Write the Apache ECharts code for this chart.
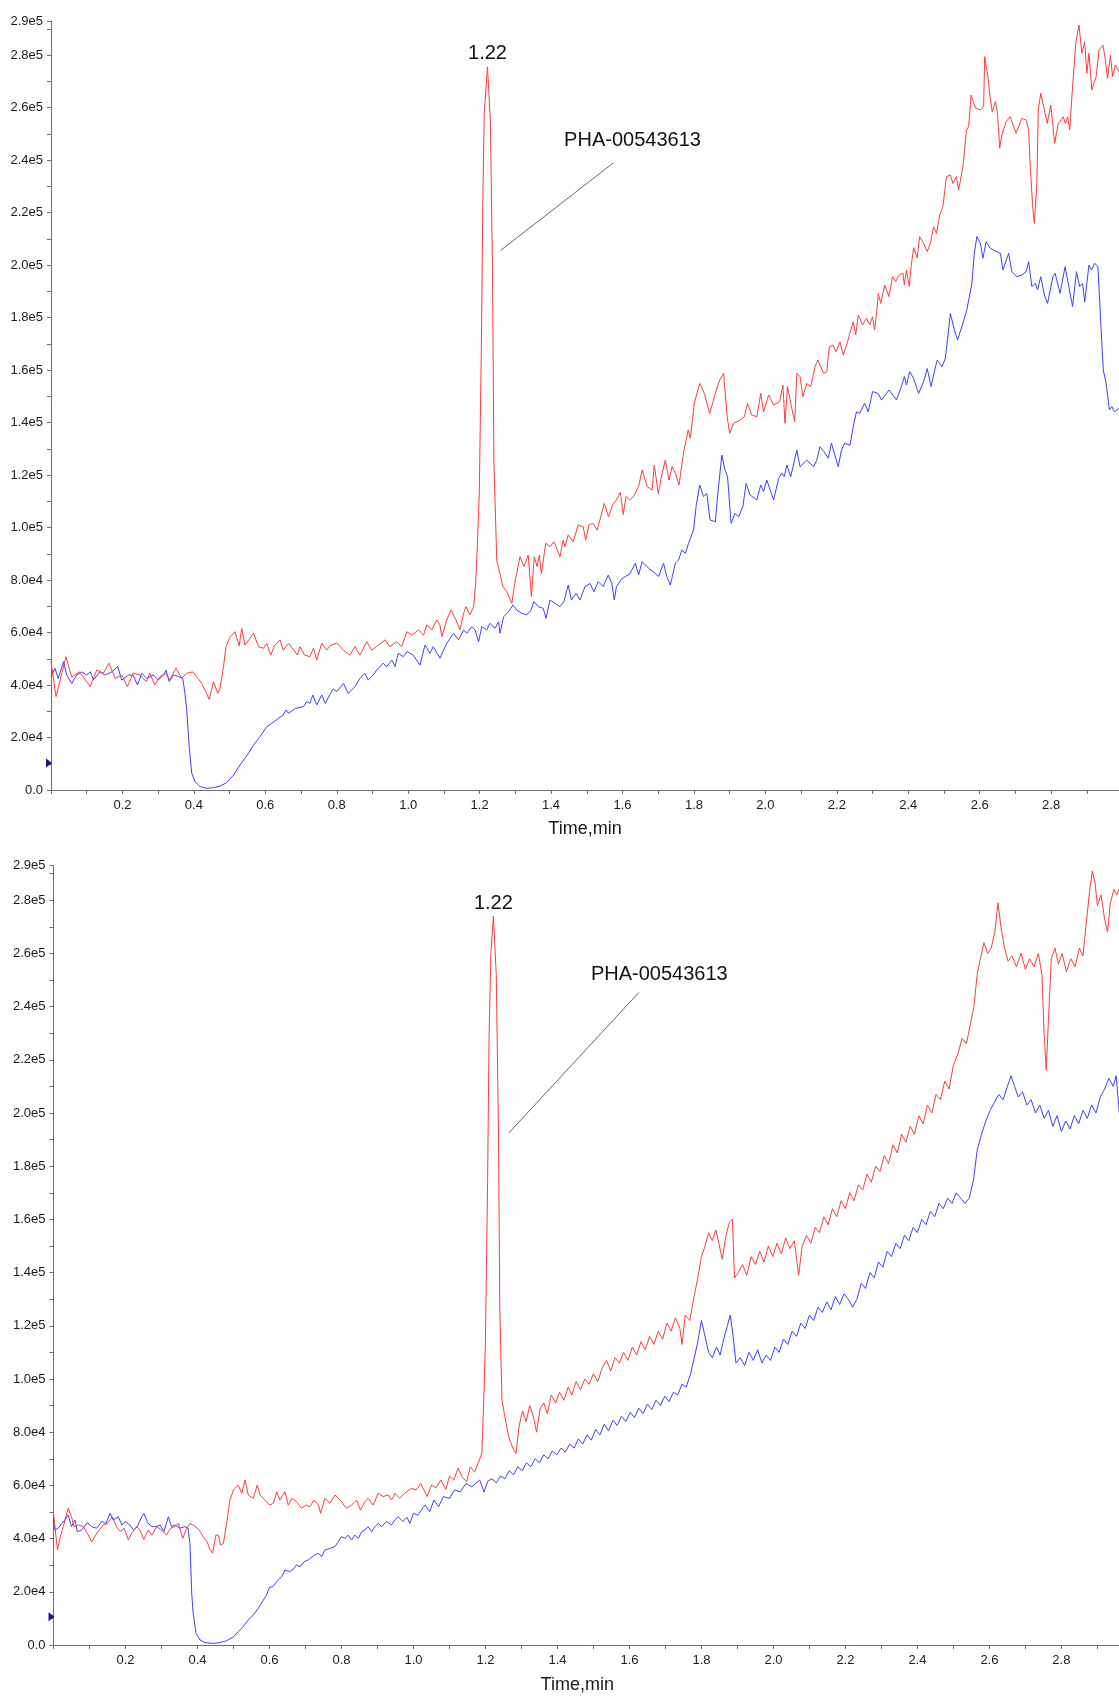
<!DOCTYPE html>
<html>
<head>
<meta charset="utf-8">
<script src="https://cdn.jsdelivr.net/npm/echarts/dist/echarts.min.js"></script>
<style>
  html, body { margin: 0; padding: 0; background: #fff; }
  #chart { width: 1119px; height: 1696px; }
</style>
</head>
<body>
<div id="chart"></div>
<script>
// Extracted ion chromatograms, intensity in thousands of counts vs time (min).
// Each point is [time, intensity/1000].

const redTop = [[0,48.9],[0.014,35.6],[0.042,50.8],[0.058,43.0],[0.08,45.0],[0.11,39.4],[0.128,45.7],[0.147,44.5],[0.162,48.3],[0.18,42.5],[0.198,43.8],[0.214,39.4],[0.23,44.5],[0.25,43.8],[0.266,41.3],[0.277,44.5],[0.29,40.0],[0.305,43.2],[0.32,44.5],[0.333,41.9],[0.35,46.4],[0.366,42.5],[0.38,44.5],[0.397,45.0],[0.408,43.2],[0.422,40.6],[0.433,37.5],[0.443,34.5],[0.455,41.3],[0.467,36.8],[0.473,38.7],[0.483,47.0],[0.49,54.6],[0.502,58.4],[0.515,60.3],[0.527,54.9],[0.534,61.6],[0.543,55.2],[0.567,59.7],[0.581,54.6],[0.595,54.0],[0.604,55.9],[0.615,51.4],[0.627,55.2],[0.641,57.2],[0.65,53.3],[0.665,55.9],[0.69,51.4],[0.697,54.6],[0.71,51.4],[0.725,50.8],[0.735,54.0],[0.744,49.5],[0.758,55.9],[0.772,53.3],[0.781,55.0],[0.8,56.0],[0.819,53.3],[0.837,51.4],[0.851,54.6],[0.865,51.4],[0.884,56.5],[0.898,53.3],[0.917,55.2],[0.935,57.2],[0.949,54.6],[0.968,56.5],[0.982,54.6],[0.996,60.3],[1.01,59.0],[1.029,61.0],[1.043,59.0],[1.052,62.9],[1.066,61.0],[1.08,64.8],[1.089,62.9],[1.094,58.4],[1.108,64.8],[1.12,68.6],[1.134,64.8],[1.145,61.0],[1.155,67.3],[1.162,69.9],[1.173,66.7],[1.183,69.9],[1.189,78.7],[1.195,97.8],[1.199,113],[1.205,170],[1.209,225],[1.213,258],[1.222,275.5],[1.23,255],[1.236,198],[1.24,125],[1.248,87.6],[1.257,82.5],[1.265,77.5],[1.276,75.6],[1.29,71.1],[1.3,80.0],[1.313,88.9],[1.324,85.1],[1.336,89.5],[1.345,73.7],[1.353,88.9],[1.361,85.1],[1.367,89.5],[1.373,82.5],[1.385,94.0],[1.397,92.7],[1.408,94.6],[1.425,88.9],[1.434,95.2],[1.439,92.7],[1.448,97.2],[1.462,94.6],[1.476,101.0],[1.49,100.3],[1.497,95.2],[1.506,101.0],[1.517,101.6],[1.529,99.0],[1.538,103.5],[1.549,109.2],[1.561,104.1],[1.572,108.6],[1.583,110.5],[1.594,113.4],[1.602,105.0],[1.61,111.8],[1.62,110.5],[1.631,111.8],[1.645,115.6],[1.655,121.9],[1.669,115.6],[1.683,114.3],[1.689,123.8],[1.7,113.0],[1.711,120.7],[1.72,125.7],[1.73,118.1],[1.739,123.2],[1.748,120.7],[1.758,116.2],[1.772,129.5],[1.784,137.2],[1.79,134.0],[1.801,147.3],[1.816,154.9],[1.829,151.1],[1.844,143.5],[1.86,151.1],[1.872,156.2],[1.883,158.8],[1.893,142.2],[1.9,135.9],[1.911,139.7],[1.93,141.0],[1.941,142.2],[1.95,147.3],[1.962,142.9],[1.976,142.2],[1.987,151.1],[1.995,144.1],[2.009,150.5],[2.023,146.7],[2.04,148.0],[2.049,154.3],[2.055,139.7],[2.062,153.7],[2.071,147.3],[2.082,140.3],[2.088,158.8],[2.097,157.5],[2.105,149.9],[2.116,154.9],[2.127,153.7],[2.139,161.3],[2.147,163.8],[2.163,158.8],[2.172,159.4],[2.179,168.9],[2.189,169.5],[2.198,167.0],[2.209,170.8],[2.218,165.7],[2.229,170.2],[2.239,175.3],[2.246,178.4],[2.253,173.4],[2.26,181.0],[2.272,177.2],[2.283,179.7],[2.292,177.2],[2.3,180.3],[2.306,175.3],[2.313,184.2],[2.316,189.2],[2.323,185.4],[2.334,192.4],[2.346,188.0],[2.356,195.6],[2.365,193.7],[2.374,196.2],[2.385,196.9],[2.389,192.4],[2.395,198.1],[2.403,191.8],[2.408,199.4],[2.415,206.6],[2.425,202.8],[2.432,210.8],[2.443,208.3],[2.453,205.1],[2.462,208.3],[2.471,214.6],[2.479,212.1],[2.488,219.1],[2.497,222.3],[2.507,233.7],[2.518,234.3],[2.525,231.1],[2.535,233.7],[2.541,228.6],[2.553,237.5],[2.563,251.5],[2.569,252.7],[2.576,264.8],[2.588,259.8],[2.602,259.1],[2.611,260.4],[2.614,279.4],[2.623,271.8],[2.628,265.4],[2.635,258.4],[2.644,262.3],[2.65,257.8],[2.656,244.5],[2.662,249.6],[2.674,254.6],[2.685,256.5],[2.702,250.2],[2.718,255.9],[2.73,255.3],[2.737,251.5],[2.741,238.8],[2.749,221.0],[2.753,215.9],[2.76,231.1],[2.764,259.1],[2.771,265.4],[2.783,257.8],[2.789,254.0],[2.799,261.0],[2.81,246.4],[2.82,254.0],[2.834,256.5],[2.84,254.0],[2.846,256.5],[2.852,251.5],[2.86,268.0],[2.869,284.5],[2.878,291.5],[2.886,280.7],[2.894,285.1],[2.9,273.1],[2.906,280.7],[2.914,266.7],[2.926,271.8],[2.934,281.9],[2.945,283.8],[2.952,278.1],[2.958,271.1],[2.966,280.0],[2.972,271.8],[2.98,276.2],[2.99,273.7]];

const blueTop = [[0,43.0],[0.011,46.4],[0.02,42.5],[0.035,48.9],[0.044,43.8],[0.058,40.6],[0.072,43.8],[0.086,45.0],[0.1,43.8],[0.11,45.0],[0.119,41.9],[0.137,45.0],[0.151,43.8],[0.17,45.0],[0.187,47.0],[0.198,41.9],[0.217,43.8],[0.23,43.8],[0.242,40.0],[0.254,44.5],[0.268,42.5],[0.287,43.8],[0.3,41.9],[0.315,43.8],[0.322,45.7],[0.331,41.3],[0.343,43.8],[0.357,43.2],[0.369,42.5],[0.375,36.8],[0.38,30.5],[0.387,16.5],[0.394,6.4],[0.403,3.2],[0.417,1.3],[0.436,0.6],[0.455,0.9],[0.473,1.5],[0.492,2.8],[0.511,5.7],[0.529,9.5],[0.553,14.0],[0.567,17.1],[0.585,20.3],[0.604,24.1],[0.618,25.4],[0.637,27.3],[0.65,28.6],[0.658,30.5],[0.665,29.2],[0.684,31.1],[0.707,31.8],[0.716,33.7],[0.725,33.0],[0.733,36.2],[0.744,32.4],[0.758,36.2],[0.768,33.0],[0.781,36.5],[0.79,38.5],[0.8,37.5],[0.819,40.6],[0.832,36.8],[0.851,39.4],[0.865,42.5],[0.879,44.5],[0.888,41.9],[0.898,43.2],[0.912,45.7],[0.93,48.3],[0.94,47.0],[0.954,49.5],[0.963,47.0],[0.972,52.1],[0.986,50.8],[0.997,52.7],[1.014,51.4],[1.033,47.6],[1.047,55.2],[1.061,52.1],[1.07,54.6],[1.089,50.2],[1.108,55.9],[1.127,59.7],[1.141,57.2],[1.155,61.0],[1.164,59.7],[1.178,62.2],[1.187,61.0],[1.197,56.5],[1.206,62.2],[1.22,61.0],[1.229,63.5],[1.243,61.6],[1.253,64.1],[1.257,59.7],[1.267,66.0],[1.281,67.9],[1.293,70.5],[1.304,68.6],[1.318,67.3],[1.332,66.7],[1.344,68.6],[1.352,71.8],[1.364,69.9],[1.378,69.2],[1.386,65.4],[1.397,72.4],[1.411,71.1],[1.425,69.9],[1.436,71.8],[1.448,78.1],[1.457,72.4],[1.47,74.9],[1.481,72.4],[1.495,77.5],[1.509,78.7],[1.52,75.6],[1.532,79.4],[1.546,77.5],[1.56,81.9],[1.57,78.7],[1.577,72.4],[1.583,77.5],[1.597,80.3],[1.607,81.3],[1.62,82.2],[1.636,86.4],[1.645,81.9],[1.655,87.0],[1.673,84.5],[1.692,82.5],[1.701,81.3],[1.715,86.4],[1.724,81.3],[1.734,78.1],[1.748,86.4],[1.757,87.6],[1.766,91.4],[1.776,90.2],[1.785,94.0],[1.799,99.1],[1.806,108.0],[1.816,116.2],[1.827,111.8],[1.836,113.0],[1.845,102.9],[1.86,102.2],[1.867,113.0],[1.878,127.6],[1.887,121.9],[1.894,119.4],[1.904,101.6],[1.915,105.4],[1.925,104.1],[1.937,108.0],[1.946,116.8],[1.957,112.4],[1.976,110.5],[1.987,116.2],[1.995,113.7],[2.004,118.1],[2.023,110.5],[2.037,118.7],[2.046,120.7],[2.053,119.4],[2.06,123.8],[2.071,119.4],[2.088,129.5],[2.097,123.2],[2.116,125.7],[2.135,123.2],[2.144,125.7],[2.153,130.8],[2.164,128.9],[2.176,126.4],[2.185,132.1],[2.204,123.2],[2.213,129.5],[2.222,132.1],[2.237,131.4],[2.246,138.4],[2.255,144.1],[2.264,143.5],[2.278,147.3],[2.288,144.1],[2.3,151.8],[2.316,151.1],[2.325,148.6],[2.346,152.4],[2.367,148.6],[2.38,153.4],[2.389,157.5],[2.395,154.3],[2.404,159.4],[2.415,156.8],[2.429,151.1],[2.443,155.6],[2.453,160.6],[2.464,153.7],[2.473,159.4],[2.481,163.8],[2.495,161.3],[2.504,164.5],[2.518,181.6],[2.529,175.3],[2.538,171.5],[2.55,176.5],[2.564,182.9],[2.578,193.0],[2.585,204.5],[2.592,210.8],[2.602,208.3],[2.609,202.6],[2.618,208.9],[2.63,206.4],[2.648,205.1],[2.658,204.5],[2.665,198.1],[2.681,204.5],[2.69,197.5],[2.704,195.6],[2.718,196.2],[2.73,197.5],[2.737,201.3],[2.746,191.8],[2.756,193.0],[2.762,190.5],[2.771,195.6],[2.781,188.6],[2.79,185.4],[2.805,195.6],[2.811,196.9],[2.825,189.2],[2.839,199.4],[2.86,184.2],[2.871,197.5],[2.88,191.8],[2.888,193.0],[2.894,186.0],[2.906,200.0],[2.913,198.1],[2.922,200.7],[2.931,199.4],[2.94,175.3],[2.946,160.0],[2.954,154.9],[2.963,144.8],[2.97,146.1],[2.977,144.1],[2.99,145.4]];

const redBottom = [[0,49.5],[0.011,35.7],[0.018,40.1],[0.027,44.5],[0.041,51.4],[0.05,48.2],[0.057,44.5],[0.069,45.1],[0.083,44.5],[0.094,42.0],[0.106,38.8],[0.12,42.0],[0.138,45.1],[0.15,45.7],[0.164,48.2],[0.175,44.5],[0.185,42.6],[0.196,43.9],[0.208,39.5],[0.217,42.0],[0.231,44.5],[0.24,43.2],[0.251,39.7],[0.263,43.2],[0.273,41.3],[0.287,44.5],[0.3,43.2],[0.314,41.3],[0.326,43.9],[0.337,44.5],[0.347,45.7],[0.359,40.1],[0.368,43.2],[0.379,45.7],[0.393,44.7],[0.405,43.2],[0.416,40.7],[0.427,38.8],[0.435,35.7],[0.442,34.5],[0.451,41.3],[0.458,41.3],[0.464,37.6],[0.472,38.2],[0.481,45.7],[0.49,54.5],[0.5,58.3],[0.513,60.1],[0.523,57.0],[0.532,62.0],[0.541,56.4],[0.555,55.1],[0.566,60.1],[0.574,56.4],[0.587,54.5],[0.601,52.6],[0.611,53.3],[0.62,57.6],[0.629,54.5],[0.643,57.6],[0.652,52.6],[0.662,55.1],[0.675,53.9],[0.689,51.4],[0.701,52.6],[0.712,52.0],[0.724,54.5],[0.736,52.6],[0.742,49.5],[0.754,55.1],[0.768,53.3],[0.782,56.4],[0.796,54.5],[0.814,51.4],[0.828,52.6],[0.842,54.5],[0.853,50.7],[0.865,53.9],[0.874,55.1],[0.888,52.6],[0.902,57.0],[0.916,55.8],[0.93,56.4],[0.939,54.5],[0.949,57.0],[0.962,55.1],[0.975,57.0],[0.994,58.9],[1.008,58.3],[1.02,60.7],[1.038,55.8],[1.05,60.1],[1.062,59.0],[1.076,62.0],[1.09,58.5],[1.1,63.5],[1.112,62.0],[1.124,66.5],[1.136,63.0],[1.148,61.5],[1.158,67.0],[1.17,65.0],[1.18,68.5],[1.19,72.0],[1.196,95],[1.2,115],[1.206,175],[1.21,228],[1.215,260],[1.222,274],[1.23,252],[1.236,195],[1.24,125],[1.246,92],[1.255,85],[1.265,78],[1.276,74],[1.285,72],[1.293,82],[1.303,88],[1.313,84],[1.323,90],[1.333,86],[1.342,80],[1.352,89],[1.362,91],[1.372,87],[1.383,94],[1.395,91],[1.406,95],[1.418,92],[1.43,97],[1.44,94],[1.452,99],[1.464,96],[1.476,100],[1.488,98],[1.5,102],[1.512,99],[1.524,104],[1.536,107],[1.548,103],[1.56,108],[1.572,106],[1.584,110],[1.596,107],[1.608,112],[1.62,109],[1.632,114],[1.644,111],[1.656,116],[1.668,113],[1.68,118],[1.692,115],[1.704,121],[1.716,118],[1.728,123],[1.74,119],[1.746,113],[1.755,124],[1.768,122],[1.778,130],[1.79,138],[1.8,146],[1.81,150],[1.82,155],[1.83,152],[1.84,156],[1.85,150],[1.858,145],[1.868,154],[1.878,159],[1.886,160],[1.892,138],[1.902,140],[1.914,143],[1.926,139],[1.938,146],[1.95,143],[1.962,148],[1.974,144],[1.986,150],[1.998,146],[2.01,151],[2.022,147],[2.034,153],[2.046,149],[2.058,152],[2.07,139],[2.08,150],[2.092,154],[2.104,151],[2.116,157],[2.128,155],[2.14,161],[2.152,158],[2.164,164],[2.176,161],[2.188,167],[2.2,164],[2.212,170],[2.224,167],[2.236,173],[2.248,171],[2.26,177],[2.272,174],[2.284,180],[2.296,178],[2.308,184],[2.32,181],[2.332,188],[2.344,185],[2.356,192],[2.368,189],[2.38,195],[2.392,192],[2.404,199],[2.416,196],[2.428,203],[2.44,200],[2.452,207],[2.464,205],[2.476,212],[2.488,209],[2.5,218],[2.512,222],[2.524,228],[2.536,226],[2.548,234],[2.557,240],[2.566,252],[2.575,258],[2.585,264],[2.595,260],[2.605,262],[2.615,268],[2.624,279],[2.632,270],[2.642,262],[2.652,257],[2.663,259],[2.675,255],[2.688,260],[2.7,254],[2.712,258],[2.724,255],[2.736,260],[2.746,252],[2.752,230],[2.758,216],[2.764,235],[2.772,258],[2.782,262],[2.792,256],[2.802,260],[2.814,253],[2.826,258],[2.838,255],[2.85,262],[2.86,259],[2.868,270],[2.878,283],[2.886,291],[2.893,287],[2.9,278],[2.91,282],[2.92,273],[2.928,268],[2.936,279],[2.946,284],[2.954,282],[2.963,285]];

const blueBottom = [[0,48.2],[0.004,43.2],[0.013,43.9],[0.023,45.7],[0.032,47.0],[0.041,48.9],[0.05,44.5],[0.06,47.0],[0.066,42.6],[0.078,43.2],[0.094,46.0],[0.106,44.5],[0.12,43.9],[0.134,46.4],[0.146,45.7],[0.157,49.5],[0.166,47.0],[0.18,48.2],[0.19,45.1],[0.199,46.4],[0.212,45.1],[0.222,43.2],[0.233,44.5],[0.245,48.2],[0.251,49.5],[0.263,45.7],[0.273,44.5],[0.285,44.5],[0.296,45.1],[0.307,42.6],[0.319,48.2],[0.328,44.5],[0.337,45.1],[0.351,43.9],[0.365,44.5],[0.374,43.9],[0.379,38.2],[0.384,19.4],[0.388,11.9],[0.396,4.4],[0.407,1.9],[0.421,0.9],[0.444,0.6],[0.462,0.9],[0.481,1.6],[0.5,3.1],[0.513,5.0],[0.527,6.9],[0.541,9.4],[0.555,11.3],[0.569,13.8],[0.583,16.9],[0.592,18.8],[0.6,21.7],[0.609,21.9],[0.62,23.8],[0.634,25.7],[0.643,28.2],[0.655,27.6],[0.666,28.4],[0.675,30.1],[0.685,29.4],[0.696,31.3],[0.708,32.0],[0.722,33.5],[0.736,34.5],[0.745,33.2],[0.754,35.7],[0.768,36.3],[0.782,37.0],[0.791,38.8],[0.8,40.7],[0.81,40.1],[0.819,41.3],[0.828,39.5],[0.837,41.3],[0.847,40.1],[0.856,42.6],[0.865,43.2],[0.874,44.5],[0.884,42.6],[0.893,44.5],[0.902,45.7],[0.911,44.5],[0.925,46.4],[0.939,45.1],[0.948,47.0],[0.958,48.2],[0.97,46.4],[0.982,48.0],[0.99,45.7],[1.0,49.5],[1.012,48.8],[1.032,52.6],[1.045,50.1],[1.057,54.5],[1.07,52.0],[1.083,55.8],[1.1,55.1],[1.114,58.3],[1.13,57.6],[1.146,60.7],[1.162,59.5],[1.184,62.0],[1.196,57.5],[1.206,61.5],[1.218,62.5],[1.23,61.0],[1.242,63.5],[1.254,62.5],[1.266,65.5],[1.278,64.0],[1.29,67.0],[1.302,65.5],[1.314,68.5],[1.326,67.0],[1.338,70.0],[1.35,68.5],[1.362,71.5],[1.374,70.0],[1.386,73.0],[1.398,71.5],[1.41,74.0],[1.422,72.5],[1.434,75.5],[1.446,74.0],[1.458,77.5],[1.47,75.5],[1.482,79.0],[1.494,77.0],[1.506,81.0],[1.518,79.0],[1.53,83.0],[1.542,80.5],[1.554,84.5],[1.566,82.5],[1.578,86.0],[1.59,84.0],[1.602,87.5],[1.614,85.5],[1.626,89.0],[1.638,87.0],[1.65,90.5],[1.662,88.5],[1.674,92.0],[1.686,90.0],[1.698,93.5],[1.71,91.5],[1.722,95.0],[1.734,94.0],[1.746,98.0],[1.758,97.0],[1.77,102],[1.78,108],[1.79,114],[1.8,122],[1.81,116],[1.82,110],[1.83,108],[1.842,112],[1.852,109],[1.862,115],[1.872,120],[1.88,124],[1.888,116],[1.896,106],[1.908,108],[1.92,105],[1.932,110],[1.944,107],[1.956,111],[1.968,106],[1.98,109],[1.992,107],[2.004,112],[2.016,110],[2.028,115],[2.04,113],[2.052,118],[2.064,116],[2.076,121],[2.088,119],[2.1,124],[2.112,122],[2.124,127],[2.136,125],[2.148,129],[2.16,126],[2.172,131],[2.184,128],[2.196,132],[2.208,130],[2.22,127],[2.232,130],[2.244,136],[2.256,134],[2.268,140],[2.28,138],[2.292,144],[2.304,142],[2.316,148],[2.328,146],[2.34,151],[2.352,149],[2.364,154],[2.376,152],[2.388,157],[2.4,155],[2.412,160],[2.424,158],[2.436,163],[2.448,161],[2.46,166],[2.472,164],[2.484,168],[2.496,166],[2.508,170],[2.52,168],[2.532,166],[2.544,168],[2.556,175],[2.566,186],[2.578,192],[2.59,197],[2.602,201],[2.614,204],[2.626,207],[2.638,205],[2.65,210],[2.66,214],[2.67,210],[2.68,206],[2.692,208],[2.704,203],[2.716,205],[2.728,200],[2.74,203],[2.752,198],[2.764,201],[2.776,195],[2.788,199],[2.8,193],[2.812,197],[2.824,194],[2.836,199],[2.848,196],[2.86,201],[2.872,198],[2.884,203],[2.896,200],[2.908,206],[2.92,209],[2.932,213],[2.944,210],[2.952,214],[2.958,205],[2.963,196]];

// Compound annotation and its leader line, in [time, intensity/1000]
const compoundName = 'PHA-00543613';
const annotTop = { text: [1.628, 247.4], line: [[1.574, 238.9], [1.259, 205.6]] };
const annotBottom = { text: [1.683, 251.9], line: [[1.626, 245.3], [1.265, 192.5]] };

// Threshold marker on the intensity axis
const thresholdTop = 10.3;
const thresholdBottom = 10.6;

const UNIT = 1000;
const Y_MAX = 293000;
const FONT = '"Liberation Sans", Arial, sans-serif';
const RED = '#ff3b3b';
const BLUE = '#3f3fff';
const AXIS = '#6e6e6e';

function sci(v) {
  if (v === 0) return '0.0';
  const e = Math.floor(Math.log10(v) + 1e-9);
  return (v / Math.pow(10, e)).toFixed(1) + 'e' + e;
}

function scaled(pts) { return pts.map(p => [p[0], p[1] * UNIT]); }

function apex(pts, lo, hi) {
  let best = null;
  pts.forEach(p => { if (p[0] >= lo && p[0] <= hi && (!best || p[1] > best[1])) best = p; });
  return best;
}

const panels = [
  { grid: { left: 51, top: 21, width: 1068, height: 769 }, xMax: 2.99, nameGap: 30, namePad: [0, 0, 0, 0],
    red: redTop, blue: blueTop, annot: annotTop, threshold: thresholdTop },
  { grid: { left: 53.5, top: 865.6, width: 1065.5, height: 779.4 }, xMax: 2.96, nameGap: 31, namePad: [0, 18, 0, 0],
    red: redBottom, blue: blueBottom, annot: annotBottom, threshold: thresholdBottom }
];

const grids = [], xAxes = [], yAxes = [], series = [];

panels.forEach((p, i) => {
  grids.push(p.grid);
  xAxes.push({
    type: 'value', gridIndex: i, min: 0, max: p.xMax, interval: 0.1,
    name: 'Time,min', nameLocation: 'middle', nameGap: p.nameGap,
    nameTextStyle: { fontFamily: FONT, fontSize: 18, color: '#1a1a1a', padding: p.namePad },
    axisLine: { show: true, onZero: false, lineStyle: { color: AXIS, width: 1 } },
    axisTick: { show: true, length: 4, lineStyle: { color: AXIS } },
    splitLine: { show: false },
    axisLabel: {
      fontFamily: FONT, fontSize: 13, color: '#1a1a1a', margin: 9,
      showMaxLabel: false,
      formatter: v => { const k = Math.round(v * 10); return (k > 0 && k % 2 === 0 && k < 30) ? (k / 10).toFixed(1) : ''; }
    }
  });
  yAxes.push({
    type: 'value', gridIndex: i, min: 0, max: Y_MAX, interval: 10000,
    axisLine: { show: true, lineStyle: { color: AXIS, width: 1 } },
    axisTick: { show: true, length: 4, lineStyle: { color: AXIS } },
    splitLine: { show: false },
    axisLabel: {
      fontFamily: FONT, fontSize: 13, color: '#1a1a1a', margin: 8, showMaxLabel: true,
      formatter: v => { const r = Math.round(v); return (r % 20000 === 0 || r === Y_MAX) ? sci(r) : ''; }
    }
  });

  const peak = apex(p.red, 1.15, 1.3);
  series.push({
    type: 'line', xAxisIndex: i, yAxisIndex: i, data: scaled(p.red),
    showSymbol: false, symbol: 'none', lineStyle: { color: RED, width: 1 }, z: 3,
    animation: false, silent: true,
    markPoint: {
      silent: true, animation: false,
      data: [
        { coord: [peak[0], peak[1] * UNIT], symbol: 'circle', symbolSize: 0,
          label: { show: true, position: 'top', distance: 3, formatter: peak[0].toFixed(2),
                   fontFamily: FONT, fontSize: 20, color: '#111' } },
        { coord: [p.annot.text[0], p.annot.text[1] * UNIT], symbol: 'circle', symbolSize: 0,
          label: { show: true, position: 'inside', formatter: compoundName,
                   fontFamily: FONT, fontSize: 20, color: '#111' } }
      ]
    },
    markLine: {
      silent: true, animation: false, symbol: ['none', 'none'],
      lineStyle: { color: '#666', width: 1, type: 'solid' },
      label: { show: false },
      data: [[{ coord: [p.annot.line[0][0], p.annot.line[0][1] * UNIT] },
              { coord: [p.annot.line[1][0], p.annot.line[1][1] * UNIT] }]]
    }
  });
  series.push({
    type: 'line', xAxisIndex: i, yAxisIndex: i, data: scaled(p.blue),
    showSymbol: false, symbol: 'none', lineStyle: { color: BLUE, width: 1 }, z: 2,
    animation: false, silent: true,
    markPoint: {
      silent: true, animation: false,
      data: [{ coord: [0, p.threshold * UNIT], symbol: 'triangle', symbolSize: [9, 6],
               symbolRotate: -90, symbolOffset: [-2, 0], itemStyle: { color: '#1414a0' },
               label: { show: false } }]
    }
  });
});

const chart = echarts.init(document.getElementById('chart'), null, { renderer: 'canvas' });
chart.setOption({
  animation: false,
  backgroundColor: '#fff',
  grid: grids,
  xAxis: xAxes,
  yAxis: yAxes,
  series: series
});
</script>
</body>
</html>
